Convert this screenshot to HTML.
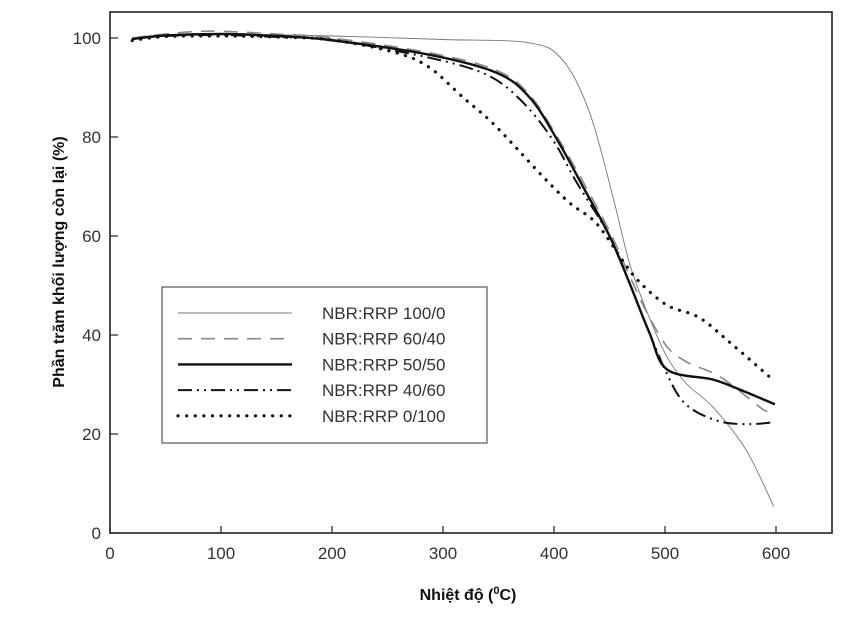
<!DOCTYPE html>
<html><head><meta charset="utf-8"><style>
body{margin:0;background:#fff;}
svg{display:block;font-family:"Liberation Sans","DejaVu Sans",sans-serif;}
</style></head><body>
<svg id="chart" width="861" height="627" viewBox="0 0 861 627">
<g id="axes"></g>
<g id="series"></g>
<g id="legend"></g>
<text transform="translate(64,262) rotate(-90)" text-anchor="middle" font-size="16" font-weight="bold" fill="#111">Phần trăm khối lượng còn lại (%)</text>
<text x="468" y="600" text-anchor="middle" font-size="16" font-weight="bold" fill="#111">Nhiệt độ (<tspan font-size="11" dy="-6">0</tspan><tspan dy="6">C)</tspan></text>
</svg>
<script>
const xTicks=[0,100,200,300,400,500,600];
const yTicks=[0,20,40,60,80,100];
const seriesNames=["NBR:RRP 100/0","NBR:RRP 60/40","NBR:RRP 50/50","NBR:RRP 40/60","NBR:RRP 0/100"];
const t100_0=[20,50,100,200,300,378,408,432,453,468,485,502,520,543,573,598];
const v100_0=[100,100.6,100.8,100.4,99.7,99,95.5,85,68,54.5,44,35.5,30,25.5,16.8,5.3];
const t60_40=[20,50,90,150,200,288,348,378,403,426,450,468,484,502,520,550,585,592];
const v60_40=[100,100.8,101.4,100.8,100,97,93.5,88.5,80,71,61,52,44.4,37.6,34.5,31.5,25.5,24.5];
const t50_50=[20,50,100,150,198,288,348,378,403,426,450,468,486,502,543,567,599];
const v50_50=[99.8,100.5,100.8,100.4,99.6,96.6,93,88,79.4,70,60,50.5,40.4,33,31,29,26];
const t40_60=[20,50,100,150,200,288,340,372,399,420,450,468,486,500,513,528,552,577,599];
const v40_60=[99.8,100.4,100.6,100.2,99.6,96,92.5,87,79.4,71,60,50.5,40.4,33,27.5,24.5,22.4,22,22.4];
const t0_100=[20,50,100,150,200,258,288,318,342,366,390,414,438,462,477,502,531,561,597];
const v0_100=[99.5,100.3,100.4,100.2,99.6,97,94,88,83.4,77.8,72,66.7,62.6,55,50.7,46,43.5,38,31];
const X=t=>110+t*1.11, Y=v=>533-v*4.95;
const NS="http://www.w3.org/2000/svg";
function mk(tag,attrs,parent){const e=document.createElementNS(NS,tag);for(const k in attrs)e.setAttribute(k,attrs[k]);parent.appendChild(e);return e;}
const axes=document.getElementById('axes');
const frame=mk('rect',{x:110,y:12,width:722,height:521,fill:'none',stroke:'#222','stroke-width':1.6},axes);


xTicks.forEach(t=>{
 const l=mk('line',{x1:X(t),x2:X(t),y1:533,y2:526,stroke:'#222','stroke-width':1.2},axes);
 
 
 const tx=mk('text',{x:X(t),y:559,'text-anchor':'middle','font-size':17,fill:'#333'},axes);
 tx.textContent=t;
 
 
});
yTicks.forEach(v=>{
 const l=mk('line',{x1:110,x2:118,y1:Y(v),y2:Y(v),stroke:'#222','stroke-width':1.2},axes);
 
 
 const tx=mk('text',{x:101,y:Y(v)+6,'text-anchor':'end','font-size':17,fill:'#333'},axes);
 tx.textContent=v;
 
 
});
function smooth(ts,vs){
 const p=ts.map((t,i)=>[X(t),Y(vs[i])]);
 let d='M'+p[0][0].toFixed(1)+','+p[0][1].toFixed(1);
 for(let i=0;i<p.length-1;i++){
  const p0=p[Math.max(0,i-1)],p1=p[i],p2=p[i+1],p3=p[Math.min(p.length-1,i+2)];
  const c1=[p1[0]+(p2[0]-p0[0])/6,p1[1]+(p2[1]-p0[1])/6];
  const c2=[p2[0]-(p3[0]-p1[0])/6,p2[1]-(p3[1]-p1[1])/6];
  d+='C'+c1.map(n=>n.toFixed(1)).join(',')+' '+c2.map(n=>n.toFixed(1)).join(',')+' '+p2[0].toFixed(1)+','+p2[1].toFixed(1);
 }
 return d;
}
const styles=[
 {stroke:'#777','stroke-width':0.9},
 {stroke:'#888','stroke-width':1.6,'stroke-dasharray':'14 9'},
 {stroke:'#111','stroke-width':2.4},
 {stroke:'#111','stroke-width':2,'stroke-dasharray':'14 5 2 5 2 5'},
 {stroke:'#111','stroke-width':3.2,'stroke-dasharray':'0.1 8.5','stroke-linecap':'round'}
];
const data=[[t100_0,v100_0],[t60_40,v60_40],[t50_50,v50_50],[t40_60,v40_60],[t0_100,v0_100]];
const sg=document.getElementById('series');
const ids=['series-100-0','series-60-40','series-50-50','series-40-60','series-0-100'];
data.forEach((d,i)=>{
 const p=mk('path',Object.assign({d:smooth(d[0],d[1]),fill:'none'},styles[i]),sg);
 
 
});
const lg=document.getElementById('legend');
const box=mk('rect',{x:162,y:287,width:325,height:156,fill:'#fff',stroke:'#555','stroke-width':1.2},lg);


seriesNames.forEach((n,i)=>{
 const y=313+i*25.7;
 const l=mk('line',Object.assign({x1:178,x2:292,y1:y,y2:y},styles[i]),lg);
 
 
 const tx=mk('text',{x:322,y:y+6,'font-size':17,fill:'#333'},lg);
 tx.textContent=n;
 
 
});
</script>
</body></html>
